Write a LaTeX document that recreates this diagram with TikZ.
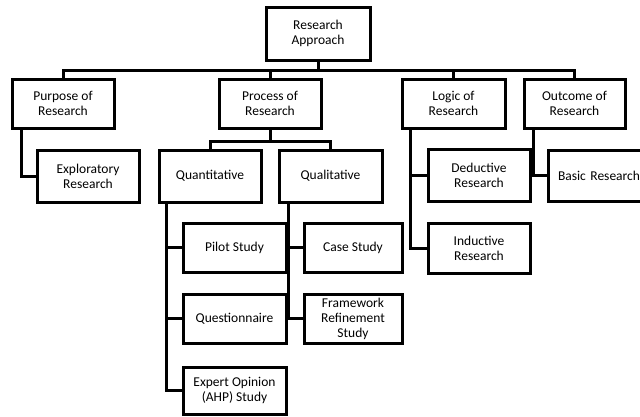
\documentclass[tikz,border=0pt]{standalone}
\usepackage{fontspec}
\setmainfont{Carlito}
\begin{document}
\begin{tikzpicture}[x=1pt,y=-1pt,
  box/.style={draw,line width=3pt,rectangle,minimum width=102pt,minimum height=49pt,inner sep=1pt,align=center,font=\fontsize{13.5}{15}\selectfont},
  conn/.style={line width=3pt}]
\useasboundingbox (0,0) rectangle (640,416);
\node[box,minimum width=104pt,minimum height=53pt] (top) at (318,33.5) {Research\\Approach};
\node[box] (purpose) at (63,103.5) {Purpose of\\Research};
\node[box] (process) at (270,103.5) {Process of\\Research};
\node[box,minimum width=103pt] (logic) at (453.5,103.5) {Logic of\\Research};
\node[box,minimum width=101pt] (outcome) at (574.5,103.5) {Outcome of\\Research};
\node[box,minimum height=52pt] (explor) at (88,176) {Exploratory\\Research};
\node[box,minimum height=52pt] (quant) at (210,176) {Quantitative};
\node[box,minimum height=52pt,minimum width=103pt] (qual) at (330.5,176) {Qualitative};
\node[box,minimum height=52pt] (deduct) at (479,175) {Deductive\\Research};
\node[box,minimum height=51pt,minimum width=112pt,text width=110pt] (basic) at (604,175.5) {\hspace*{-10pt}Basic Research};
\node[box,minimum height=50pt] (induct) at (479,248) {Inductive\\Research};
\node[box,minimum width=103pt] (pilot) at (234.5,247.5) {Pilot Study};
\node[box,minimum width=98pt] (case) at (353,247.5) {Case Study};
\node[box,minimum width=103pt] (quest) at (234.5,318.5) {Questionnaire};
\node[box,minimum width=98pt] (frame) at (353,318.5) {Framework\\Refinement\\Study};
\node[box,minimum width=103pt,minimum height=47pt] (expert) at (234.5,390.5) {Expert Opinion\\(AHP) Study};
% main bus
\draw[conn] (top.south) -- ++(0,9) coordinate (bus);
\draw[conn] (bus) -| (purpose.north);
\draw[conn] (bus) -| (process.north);
\draw[conn] (bus) -| (logic.north);
\draw[conn] (bus) -| (outcome.north);
% process bus
\draw[conn] (process.south) -- ++(0,12) coordinate (pbus);
\draw[conn] (pbus) -| (quant.north);
\draw[conn] (pbus) -| (qual.north);
% side connectors
\draw[conn] ([xshift=11pt]purpose.south west) |- (explor.west);
\draw[conn] ([xshift=9pt]quant.south west) |- (pilot.west);
\draw[conn] ([xshift=9pt]quant.south west) |- (quest.west);
\draw[conn] ([xshift=9pt]quant.south west) |- (expert.west);
\draw[conn] ([xshift=11pt]qual.south west) |- (case.west);
\draw[conn] ([xshift=11pt]qual.south west) |- (frame.west);
\draw[conn] ([xshift=10pt]logic.south west) |- (deduct.west);
\draw[conn] ([xshift=10pt]logic.south west) |- (induct.west);
\draw[conn] ([xshift=11pt]outcome.south west) |- (basic.west);
\end{tikzpicture}
\end{document}
